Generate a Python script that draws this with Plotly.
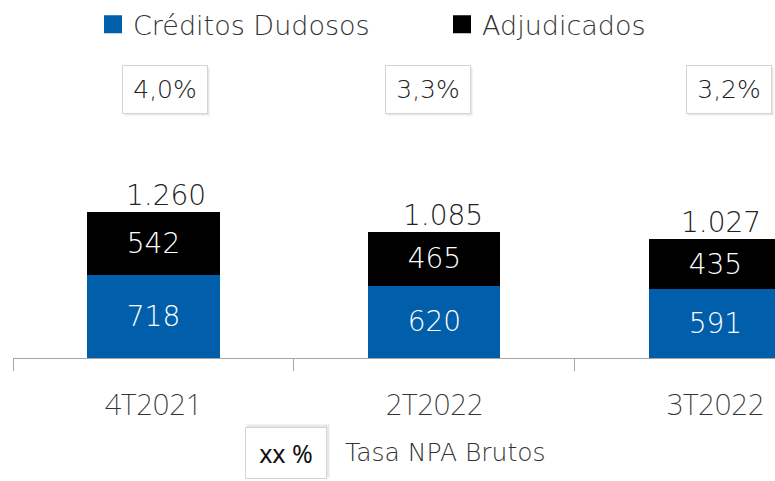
import plotly.graph_objects as go

categories = ["4T2021", "2T2022", "3T2022"]
dudosos = [718, 620, 591]
adjudicados = [542, 465, 435]
totales = [1260, 1085, 1027]
tasa_npa = ["4,0%", "3,3%", "3,2%"]

BLUE = "#005EAA"
TXT = "#333333"
WIDE = "DejaVu Sans"
NARROW = "Noto Sans"

PLOT_TOP, PLOT_BOTTOM, PLOT_LEFT, W = 0, 358, 13, 762
H = PLOT_BOTTOM - PLOT_TOP
PX_PER_UNIT = 0.1175


def py(pix):
    return (PLOT_BOTTOM - pix) / H


def px(pix):
    return (pix - PLOT_LEFT) / W


def fmt_miles(v):
    return f"{v:,}".replace(",", ".")


fig = go.Figure()
for vals, nm, col in [(dudosos, "Créditos Dudosos", BLUE), (adjudicados, "Adjudicados", "black")]:
    fig.add_trace(go.Bar(
        x=categories, y=vals, name=nm,
        marker=dict(color=col, line=dict(width=0)),
        texttemplate="%{y}", textposition="inside", insidetextanchor="middle",
        textangle=0,
        textfont=dict(color="white", size=28, family=WIDE, weight=200),
        showlegend=False, width=0.47,
    ))
# legend-only entries, one legend each so they can be placed independently
for nm, col, lg in [("Créditos Dudosos", BLUE, "legend"), ("Adjudicados", "black", "legend2")]:
    fig.add_trace(go.Scatter(
        x=[None], y=[None], mode="markers", name=nm, legend=lg,
        marker=dict(symbol="square", size=16, color=col, line=dict(color=col, width=2)),
    ))

# totals above the stacks
total_shifts = [13, 9, 6]
for cat, tot, sh in zip(categories, totales, total_shifts):
    fig.add_annotation(
        x=cat, xref="x", y=tot, yref="y", text=fmt_miles(tot), showarrow=False,
        xanchor="center", yanchor="middle", xshift=sh, yshift=16,
        font=dict(color="#222222", size=28, family=WIDE, weight=200),
    )

xshifts = [12, -6, 14]
BOX_Y = 86.5
for i, (cat, t) in enumerate(zip(categories, tasa_npa)):
    fig.add_annotation(
        x=cat, xref="x", y=py(BOX_Y), yref="paper", xanchor="center", yanchor="middle",
        text="", showarrow=False, xshift=xshifts[i] + 2, yshift=-2,
        bgcolor="#e8e8e8", width=82, height=45, borderpad=1,
    )
    fig.add_annotation(
        x=cat, xref="x", y=py(BOX_Y), yref="paper", xanchor="center", yanchor="middle",
        text=t, showarrow=False, xshift=xshifts[i],
        font=dict(size=25, color="#222222", family=WIDE, weight=200),
        bgcolor="white", bordercolor="#d4d4d4", borderwidth=1,
        width=82, height=45, borderpad=1,
    )

fig.add_annotation(
    x=px(288), xref="paper", y=py(452), yref="paper", xanchor="center", yanchor="middle",
    text="", showarrow=False, bgcolor="#e8e8e8", width=80, height=50, borderpad=1,
)
fig.add_annotation(
    x=px(286), xref="paper", y=py(454), yref="paper", xanchor="center", yanchor="middle",
    text="xx %", showarrow=False,
    font=dict(size=25, color="#111111", family=NARROW, weight=400),
    bgcolor="white", bordercolor="#d4d4d4", borderwidth=1,
    width=78, height=48, borderpad=1,
)
fig.add_annotation(
    x=px(343), xref="paper", xanchor="left", y=py(454), yref="paper", yanchor="middle",
    text="Tasa NPA Brutos", showarrow=False,
    font=dict(size=25, color=TXT, family=WIDE, weight=200),
)

legend_common = dict(
    orientation="h", yanchor="middle", xanchor="left",
    font=dict(size=27, color=TXT, family=WIDE, weight=200),
    bgcolor="rgba(0,0,0,0)",
)
fig.update_layout(
    width=775, height=481,
    margin=dict(l=PLOT_LEFT, r=0, t=PLOT_TOP, b=481 - PLOT_BOTTOM),
    paper_bgcolor="white", plot_bgcolor="white",
    barmode="stack",
    separators=",.",
    font=dict(family=WIDE, color=TXT),
    showlegend=True,
    legend=dict(legend_common, x=px(93), y=py(21)),
    legend2=dict(legend_common, x=px(442), y=py(21)),
    xaxis=dict(
        range=[-0.5, 2.212], showgrid=False, zeroline=False,
        showline=True, linecolor="#a6a6a6", linewidth=1,
        ticks="outside", tickson="boundaries", ticklen=12, tickcolor="#a6a6a6",
        tickfont=dict(size=29, color=TXT, family=NARROW, weight=200),
        ticklabelstandoff=21,
    ),
    yaxis=dict(
        range=[0, H / PX_PER_UNIT], visible=False, showgrid=False, zeroline=False,
    ),
)

fig.write_html("out.html", config={"displayModeBar": False},
               post_script="document.body.style.margin='0';")
